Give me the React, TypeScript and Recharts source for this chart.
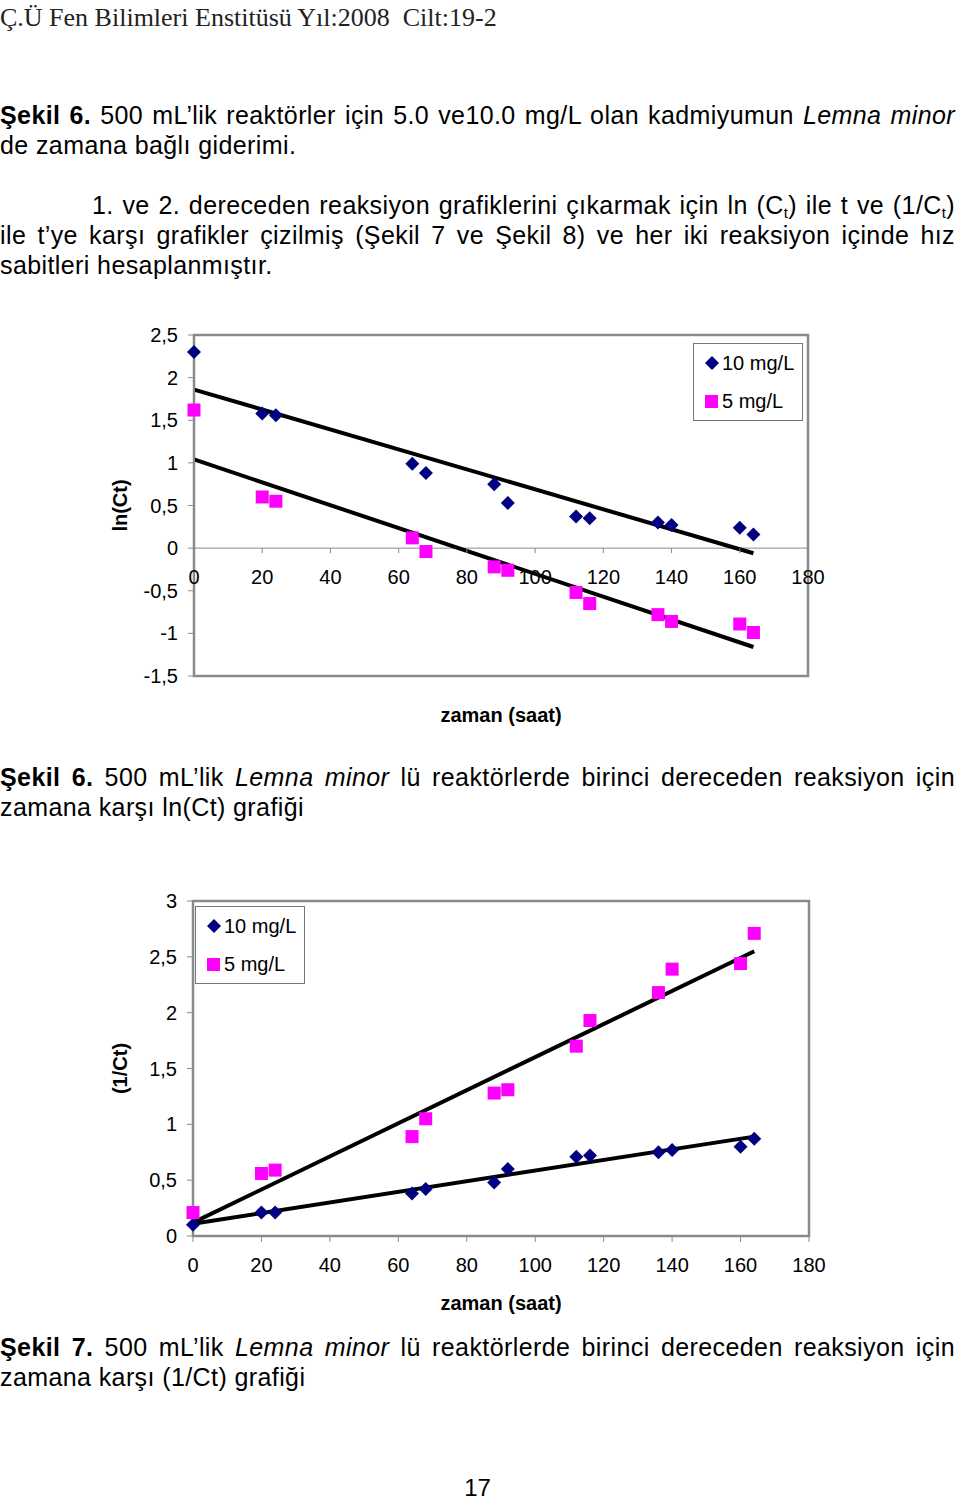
import React from "react"
import {
  Legend,
  ReferenceArea,
  ReferenceLine,
  Scatter,
  ScatterChart,
  XAxis,
  YAxis,
} from "recharts"

// sampling times (saat)
const HOURS = [0, 20, 24, 64, 68, 88, 92, 112, 116, 136, 140, 160, 164]

// Şekil 6: ln(Ct)
const LN_10 = [2.3, 1.58, 1.56, 0.99, 0.88, 0.75, 0.53, 0.37, 0.35, 0.3, 0.27, 0.24, 0.16]
const LN_5 = [1.62, 0.6, 0.55, 0.12, -0.04, -0.22, -0.26, -0.52, -0.65, -0.78, -0.86, -0.89, -0.99]
// trend lines, value at first and last hour
const LN_FIT_10 = [1.86, -0.06]
const LN_FIT_5 = [1.04, -1.16]

// Şekil 7: 1/Ct
const INV_10 = [0.1, 0.21, 0.21, 0.38, 0.42, 0.48, 0.6, 0.71, 0.72, 0.75, 0.77, 0.8, 0.87]
const INV_5 = [0.21, 0.56, 0.59, 0.89, 1.05, 1.28, 1.31, 1.7, 1.93, 2.18, 2.39, 2.44, 2.71]
const INV_FIT_10 = [0.11, 0.89]
const INV_FIT_5 = [0.12, 2.55]

const X_TICKS = [0, 20, 40, 60, 80, 100, 120, 140, 160, 180]
const LN_TICKS = [-1.5, -1, -0.5, 0, 0.5, 1, 1.5, 2, 2.5]
const INV_TICKS = [0, 0.5, 1, 1.5, 2, 2.5, 3]

const SERIES_NAMES = ["10 mg/L", "5 mg/L"]

const NAVY = "#000080"
const MAGENTA = "#ff00ff"
const GRAY = "#8a8a8a"
const SANS = '"Liberation Sans", Arial, sans-serif'

const toPoints = (ys: number[]) => HOURS.map((x, i) => ({ x, y: ys[i] }))
const fitSegment = (f: number[]) => [
  { x: HOURS[0], y: f[0] },
  { x: HOURS[HOURS.length - 1], y: f[1] },
]
const comma = (v: number) => String(v).replace(".", ",")

function Diamond(props: any) {
  const { cx, cy } = props
  const r = 7
  return (
    <path
      d={`M${cx},${cy - r}L${cx + r},${cy}L${cx},${cy + r}L${cx - r},${cy}Z`}
      fill={NAVY}
    />
  )
}

function Square(props: any) {
  const { cx, cy } = props
  const h = 6.5
  return <rect x={cx - h} y={cy - h} width={h * 2} height={h * 2} fill={MAGENTA} />
}

function LegendBox() {
  const item = { display: "flex", alignItems: "center", height: 38 }
  return (
    <div
      style={{
        border: "1px solid #777",
        background: "#fff",
        padding: "0 6px 0 10px",
        fontFamily: SANS,
        fontSize: 20,
        color: "#000",
        width: 92,
      }}
    >
      <div style={item}>
        <svg width={16} height={16} style={{ marginRight: 2 }}>
          <path d="M8,1L15,8L8,15L1,8Z" fill={NAVY} />
        </svg>
        {SERIES_NAMES[0]}
      </div>
      <div style={item}>
        <svg width={16} height={16} style={{ marginRight: 2 }}>
          <rect x={1} y={2} width={13} height={13} fill={MAGENTA} />
        </svg>
        {SERIES_NAMES[1]}
      </div>
    </div>
  )
}

// chart 1 geometry: x axis sits on y = 0
const C1_TOP = 35
const C1_PLOT_H = 341
const C1_Y0 = C1_TOP + (C1_PLOT_H * 2.5) / 4

function LnXTick(props: any) {
  const { x, payload } = props
  return (
    <g>
      <line x1={x} x2={x} y1={C1_Y0} y2={C1_Y0 + 5} stroke={GRAY} />
      <text
        x={x}
        y={C1_Y0 + 29}
        textAnchor="middle"
        dominantBaseline="central"
        fontSize={20}
        fontFamily={SANS}
        fill="#000"
      >
        {payload.value}
      </text>
    </g>
  )
}

const tickStyle = { fill: "#000", fontSize: 20, fontFamily: SANS }
const labelStyle = { fill: "#000", fontSize: 20, fontFamily: SANS, fontWeight: "bold" as const }

function LnChart() {
  return (
    <ScatterChart
      width={960}
      height={430}
      margin={{ top: C1_TOP, right: 152, bottom: 0, left: 0 }}
    >
      <XAxis
        type="number"
        dataKey="x"
        domain={[0, 180]}
        ticks={X_TICKS}
        interval={0}
        height={54}
        axisLine={false}
        tickLine={false}
        tick={<LnXTick />}
        label={{ value: "zaman (saat)", position: "insideBottom", offset: 8, style: labelStyle }}
      />
      <YAxis
        type="number"
        dataKey="y"
        domain={[-1.5, 2.5]}
        ticks={LN_TICKS}
        interval={0}
        width={194}
        tickSize={6}
        tickMargin={10}
        tickFormatter={comma}
        tick={tickStyle}
        axisLine={{ stroke: GRAY, strokeWidth: 2 }}
        tickLine={{ stroke: GRAY }}
        label={{
          value: "ln(Ct)",
          angle: -90,
          position: "insideLeft",
          offset: 120,
          style: { ...labelStyle, textAnchor: "middle" },
        }}
      />
      <ReferenceArea x1={0} x2={180} y1={-1.5} y2={2.5} fill="none" stroke={GRAY} strokeWidth={2.5} />
      <ReferenceLine y={0} stroke={GRAY} />
      <Legend
        layout="vertical"
        align="center"
        verticalAlign="middle"
        wrapperStyle={{ left: 693, top: 43, width: "auto" }}
        content={() => <LegendBox />}
      />
      <Scatter name={SERIES_NAMES[0]} data={toPoints(LN_10)} shape={<Diamond />} isAnimationActive={false} />
      <Scatter name={SERIES_NAMES[1]} data={toPoints(LN_5)} shape={<Square />} isAnimationActive={false} />
      <ReferenceLine segment={fitSegment(LN_FIT_10)} stroke="#000" strokeWidth={4} />
      <ReferenceLine segment={fitSegment(LN_FIT_5)} stroke="#000" strokeWidth={4} />
    </ScatterChart>
  )
}

function InvChart() {
  return (
    <ScatterChart width={960} height={446} margin={{ top: 31, right: 151, bottom: 0, left: 0 }}>
      <XAxis
        type="number"
        dataKey="x"
        domain={[0, 180]}
        ticks={X_TICKS}
        interval={0}
        height={80}
        tickSize={6}
        tickMargin={16}
        tick={tickStyle}
        axisLine={{ stroke: GRAY, strokeWidth: 2 }}
        tickLine={{ stroke: GRAY }}
        label={{ value: "zaman (saat)", position: "insideBottom", offset: 6, style: labelStyle }}
      />
      <YAxis
        type="number"
        dataKey="y"
        domain={[0, 3]}
        ticks={INV_TICKS}
        interval={0}
        width={193}
        tickSize={6}
        tickMargin={10}
        tickFormatter={comma}
        tick={tickStyle}
        axisLine={{ stroke: GRAY, strokeWidth: 2 }}
        tickLine={{ stroke: GRAY }}
        label={{
          value: "(1/Ct)",
          angle: -90,
          position: "insideLeft",
          offset: 120,
          style: { ...labelStyle, textAnchor: "middle" },
        }}
      />
      <ReferenceArea x1={0} x2={180} y1={0} y2={3} fill="none" stroke={GRAY} strokeWidth={2.5} />
      <Legend
        layout="vertical"
        align="center"
        verticalAlign="middle"
        wrapperStyle={{ left: 195, top: 36, width: "auto" }}
        content={() => <LegendBox />}
      />
      <Scatter name={SERIES_NAMES[0]} data={toPoints(INV_10)} shape={<Diamond />} isAnimationActive={false} />
      <Scatter name={SERIES_NAMES[1]} data={toPoints(INV_5)} shape={<Square />} isAnimationActive={false} />
      <ReferenceLine segment={fitSegment(INV_FIT_10)} stroke="#000" strokeWidth={4} />
      <ReferenceLine segment={fitSegment(INV_FIT_5)} stroke="#000" strokeWidth={4} />
    </ScatterChart>
  )
}

function Line({
  top,
  indent = 0,
  justify = false,
  children,
}: {
  top: number
  indent?: number
  justify?: boolean
  children: React.ReactNode
}) {
  return (
    <div
      style={{
        position: "absolute",
        top,
        left: indent,
        width: 955 - indent,
        fontFamily: SANS,
        fontSize: 25,
        letterSpacing: 0.4,
        lineHeight: "30px",
        textAlign: justify ? "justify" : "left",
        textAlignLast: justify ? "justify" : "left",
        color: "#000",
        whiteSpace: "nowrap",
      }}
    >
      {children}
    </div>
  )
}

const sub = { fontSize: 15, verticalAlign: -4, lineHeight: 0 }

export default function App() {
  return (
    <div
      style={{
        position: "absolute",
        left: 0,
        top: 0,
        width: 960,
        height: 1502,
        background: "#fff",
        overflow: "hidden",
      }}
    >
      <div
        style={{
          position: "absolute",
          top: 3,
          left: 0,
          fontFamily: '"Liberation Serif", "Times New Roman", serif',
          fontSize: 26,
          lineHeight: "30px",
          color: "#222",
          whiteSpace: "pre",
        }}
      >
        {"Ç.Ü Fen Bilimleri Enstitüsü Yıl:2008  Cilt:19-2"}
      </div>

      <Line top={100} justify>
        <b>Şekil 6.</b> 500 mL’lik reaktörler için 5.0 ve10.0 mg/L olan kadmiyumun <i>Lemna minor</i>
      </Line>
      <Line top={130}>de zamana bağlı giderimi.</Line>

      <Line top={190} indent={92} justify>
        1. ve 2. dereceden reaksiyon grafiklerini çıkarmak için ln (C<span style={sub}>t</span>) ile t ve (1/C
        <span style={sub}>t</span>)
      </Line>
      <Line top={220} justify>
        ile t’ye karşı grafikler çizilmiş (Şekil 7 ve Şekil 8) ve her iki reaksiyon içinde hız
      </Line>
      <Line top={250}>sabitleri hesaplanmıştır.</Line>

      <div style={{ position: "absolute", top: 300, left: 0 }}>
        <LnChart />
      </div>

      <Line top={762} justify>
        <b>Şekil 6.</b> 500 mL’lik <i>Lemna minor</i> lü reaktörlerde birinci dereceden reaksiyon için
      </Line>
      <Line top={792}>zamana karşı ln(Ct) grafiği</Line>

      <div style={{ position: "absolute", top: 870, left: 0 }}>
        <InvChart />
      </div>

      <Line top={1332} justify>
        <b>Şekil 7.</b> 500 mL’lik <i>Lemna minor</i> lü reaktörlerde birinci dereceden reaksiyon için
      </Line>
      <Line top={1362}>zamana karşı (1/Ct) grafiği</Line>

      <div
        style={{
          position: "absolute",
          top: 1473,
          left: 0,
          width: 955,
          textAlign: "center",
          fontFamily: SANS,
          fontSize: 24,
          lineHeight: "30px",
        }}
      >
        17
      </div>
    </div>
  )
}
